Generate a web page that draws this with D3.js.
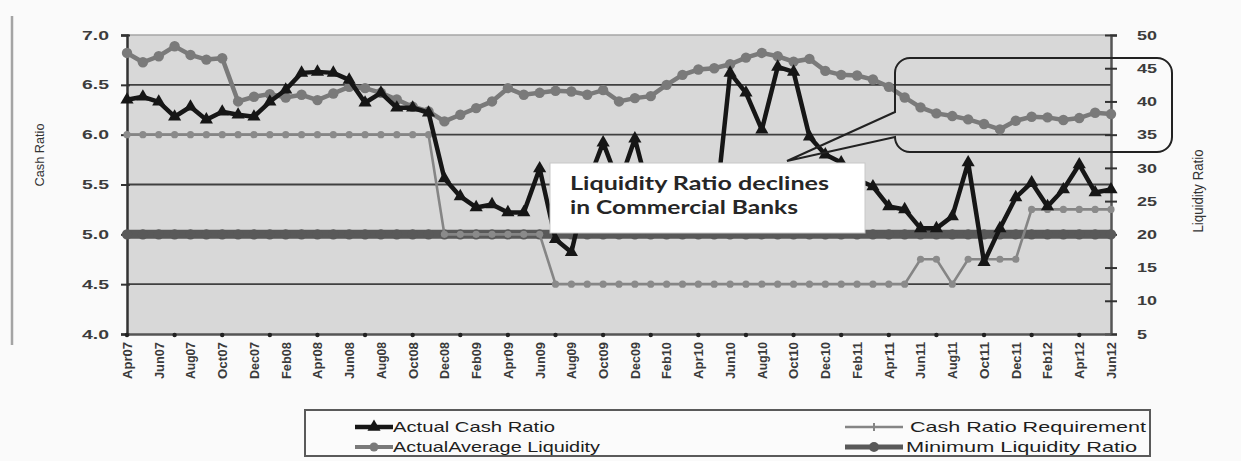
<!DOCTYPE html>
<html>
<head>
<meta charset="utf-8">
<script src="https://cdn.jsdelivr.net/npm/d3@7"></script>
<style>
  html, body { margin: 0; padding: 0; background: #fafafa; }
  svg { display: block; }
</style>
</head>
<body>
<svg id="chart" width="1241" height="461"></svg>
<script>
// Monthly observations, Apr 2007 – Jun 2012
const months = [
  "Apr07","May07","Jun07","Jul07","Aug07","Sep07","Oct07","Nov07","Dec07",
  "Jan08","Feb08","Mar08","Apr08","May08","Jun08","Jul08","Aug08","Sep08","Oct08","Nov08","Dec08",
  "Jan09","Feb09","Mar09","Apr09","May09","Jun09","Jul09","Aug09","Sep09","Oct09","Nov09","Dec09",
  "Jan10","Feb10","Mar10","Apr10","May10","Jun10","Jul10","Aug10","Sep10","Oct10","Nov10","Dec10",
  "Jan11","Feb11","Mar11","Apr11","May11","Jun11","Jul11","Aug11","Sep11","Oct11","Nov11","Dec11",
  "Jan12","Feb12","Mar12","Apr12","May12","Jun12"
];

const tickLabels = [
  "Apr07","Jun07","Aug07","Oct07","Dec07","Feb08","Apr08","Jun08","Aug08","Oct08","Dec08",
  "Feb09","Apr09","Jun09","Aug09","Oct09","Dec09","Feb10","Apr10","Jun10","Aug10","Oct10",
  "Dec10","Feb11","Apr11","Jun11","Aug11","Oct11","Dec11","Feb12","Apr12","Jun12"
];

// Cash ratio (left axis, %)
const cashRatio = [
  6.35, 6.38, 6.33, 6.18, 6.28, 6.15, 6.23, 6.20, 6.18,
  6.33, 6.45, 6.62, 6.63, 6.62, 6.55, 6.32, 6.42, 6.27, 6.27, 6.22, 5.56,
  5.38, 5.27, 5.30, 5.22, 5.22, 5.66, 4.95, 4.82, 5.50, 5.92, 5.50, 5.96,
  5.35, 5.25, 5.15, 5.10, 5.12, 6.62, 6.42, 6.05, 6.68, 6.63, 5.98, 5.80,
  5.72, 5.55, 5.48, 5.28, 5.25, 5.06, 5.06, 5.18, 5.72, 4.72, 5.06, 5.37,
  5.52, 5.28, 5.45, 5.70, 5.42, 5.45
];

// Cash ratio requirement (left axis, %)
const cashRatioRequirement = [
  6.0, 6.0, 6.0, 6.0, 6.0, 6.0, 6.0, 6.0, 6.0,
  6.0, 6.0, 6.0, 6.0, 6.0, 6.0, 6.0, 6.0, 6.0, 6.0, 6.0, 5.0,
  5.0, 5.0, 5.0, 5.0, 5.0, 5.0, 4.5, 4.5, 4.5, 4.5, 4.5, 4.5,
  4.5, 4.5, 4.5, 4.5, 4.5, 4.5, 4.5, 4.5, 4.5, 4.5, 4.5, 4.5,
  4.5, 4.5, 4.5, 4.5, 4.5, 4.75, 4.75, 4.5, 4.75, 4.75, 4.75, 4.75,
  5.25, 5.25, 5.25, 5.25, 5.25, 5.25
];

// Actual / average liquidity (right axis, %)
const liquidity = [
  47.3, 45.9, 46.8, 48.3, 47.0, 46.3, 46.5, 40.0, 40.7,
  41.1, 40.6, 41.0, 40.2, 41.2, 42.2, 42.0, 41.3, 40.3, 39.2, 38.5, 37.0,
  38.0, 39.0, 40.0, 42.0, 41.0, 41.3, 41.6, 41.5, 41.0, 41.7, 40.0, 40.5,
  40.8, 42.5, 44.0, 44.8, 45.0, 45.6, 46.6, 47.3, 46.8, 46.0, 46.4, 44.6,
  44.0, 43.9, 43.3, 42.2, 40.6, 39.1, 38.2, 37.8, 37.3, 36.6, 35.8, 37.1,
  37.7, 37.6, 37.2, 37.5, 38.3, 38.1
];

// Minimum liquidity ratio (right axis, %)
const minLiquidity = months.map(() => 20);

const leftTicks = [4.0, 4.5, 5.0, 5.5, 6.0, 6.5, 7.0];
const rightTicks = [5, 10, 15, 20, 25, 30, 35, 40, 45, 50];

const svg = d3.select("#chart");
const plot = { left: 127, right: 1111, top: 35, bottom: 334 };

const x = d3.scalePoint().domain(months).range([plot.left, plot.right]);
const yL = d3.scaleLinear().domain([4, 7]).range([plot.bottom, plot.top]);
const yR = d3.scaleLinear().domain([5, 50]).range([plot.bottom, plot.top]);

const axisFont = "'Liberation Sans', Arial, sans-serif";

// outer frame edge
svg.append("line")
  .attr("x1", 12).attr("x2", 12).attr("y1", 16).attr("y2", 345)
  .attr("stroke", "#a4a4a4").attr("stroke-width", 2.5);

// plot area
svg.append("rect")
  .attr("x", plot.left).attr("y", plot.top)
  .attr("width", plot.right - plot.left).attr("height", plot.bottom - plot.top)
  .attr("fill", "#d8d8d8");

// horizontal gridlines
svg.append("g").selectAll("line")
  .data(leftTicks.filter(d => d > 4))
  .join("line")
  .attr("x1", plot.left).attr("x2", plot.right)
  .attr("y1", d => yL(d)).attr("y2", d => yL(d))
  .attr("stroke", d => d === 7 ? "#a6a6a6" : "#404040")
  .attr("stroke-width", d => d === 7 ? 1.5 : 1.8);

// left axis
const gL = svg.append("g")
  .attr("transform", `translate(${plot.left},0)`)
  .call(d3.axisLeft(yL).tickValues(leftTicks).tickFormat(d3.format(".1f")).tickSize(6).tickPadding(12));
gL.select(".domain").attr("stroke", "#333").attr("stroke-width", 2.5);
gL.selectAll(".tick line").attr("x2", -6).attr("x1", 3).attr("stroke", "#333").attr("stroke-width", 2);
gL.selectAll(".tick text")
  .attr("font-family", axisFont).attr("font-size", 12.5).attr("font-weight", "bold")
  .attr("fill", "#3c3c3c")
  .attr("textLength", 27).attr("lengthAdjust", "spacingAndGlyphs");

// right axis
const gR = svg.append("g")
  .attr("transform", `translate(${plot.right},0)`)
  .call(d3.axisRight(yR).tickValues(rightTicks).tickSize(6).tickPadding(20));
gR.select(".domain").attr("stroke", "#555").attr("stroke-width", 2.5);
gR.selectAll(".tick line").attr("x1", -6).attr("x2", 6).attr("stroke", "#333").attr("stroke-width", 2);
gR.selectAll(".tick text")
  .attr("font-family", axisFont).attr("font-size", 13).attr("font-weight", "bold")
  .attr("fill", "#3c3c3c")
  .attr("textLength", d => d < 10 ? 10 : 20).attr("lengthAdjust", "spacingAndGlyphs");

// bottom axis: labels every two months, tick marks every quarter
const gB = svg.append("g")
  .attr("transform", `translate(0,${plot.bottom})`)
  .call(d3.axisBottom(x).tickValues(tickLabels).tickSize(0).tickPadding(0));
gB.select(".domain").attr("stroke", "#555").attr("stroke-width", 2.5);
gB.selectAll(".tick text")
  .attr("font-family", axisFont).attr("font-size", 12.5).attr("font-weight", "bold")
  .attr("fill", "#3a3a3a")
  .attr("text-anchor", "end")
  .attr("transform", "translate(0,8) rotate(-90)")
  .attr("x", 0).attr("y", 0).attr("dy", "0.35em")
  .attr("textLength", 37).attr("lengthAdjust", "spacingAndGlyphs");

const quarterTicks = months.filter((m, i) => i % 3 === 0);
svg.append("g").selectAll("circle")
  .data(quarterTicks)
  .join("circle")
  .attr("cx", d => x(d)).attr("cy", plot.bottom + 1)
  .attr("r", 2.2).attr("fill", "#222");

// axis titles
svg.append("text")
  .attr("transform", "translate(44,155) rotate(-90)")
  .attr("text-anchor", "middle")
  .attr("font-family", axisFont).attr("font-size", 13)
  .attr("fill", "#333")
  .attr("textLength", 63).attr("lengthAdjust", "spacingAndGlyphs")
  .text("Cash Ratio");

svg.append("text")
  .attr("transform", "translate(1203,191) rotate(-90)")
  .attr("text-anchor", "middle")
  .attr("font-family", axisFont).attr("font-size", 14)
  .attr("fill", "#333")
  .attr("textLength", 83).attr("lengthAdjust", "spacingAndGlyphs")
  .text("Liquidity Ratio");

// series
const lineL = d3.line().x((d, i) => x(months[i])).y(d => yL(d));
const lineR = d3.line().x((d, i) => x(months[i])).y(d => yR(d));

// minimum liquidity ratio
svg.append("path").datum(minLiquidity)
  .attr("d", lineR).attr("fill", "none")
  .attr("stroke", "#595959").attr("stroke-width", 9);
svg.append("g").selectAll("circle").data(minLiquidity).join("circle")
  .attr("cx", (d, i) => x(months[i])).attr("cy", d => yR(d))
  .attr("r", 5.2).attr("fill", "#595959");

// cash ratio requirement
svg.append("path").datum(cashRatioRequirement)
  .attr("d", lineL).attr("fill", "none")
  .attr("stroke", "#858585").attr("stroke-width", 2.6);
svg.append("g").selectAll("circle").data(cashRatioRequirement).join("circle")
  .attr("cx", (d, i) => x(months[i])).attr("cy", d => yL(d))
  .attr("r", 3.6).attr("fill", "#8a8a8a");

// actual / average liquidity
svg.append("path").datum(liquidity)
  .attr("d", lineR).attr("fill", "none")
  .attr("stroke", "#7a7a7a").attr("stroke-width", 4.5);
svg.append("g").selectAll("circle").data(liquidity).join("circle")
  .attr("cx", (d, i) => x(months[i])).attr("cy", d => yR(d))
  .attr("r", 5.2).attr("fill", "#7a7a7a");

// actual cash ratio
svg.append("path").datum(cashRatio)
  .attr("d", lineL).attr("fill", "none")
  .attr("stroke", "#161616").attr("stroke-width", 4.5).attr("stroke-linejoin", "round");
const tri = d3.symbol().type(d3.symbolTriangle).size(75);
svg.append("g").selectAll("path").data(cashRatio).join("path")
  .attr("d", tri)
  .attr("transform", (d, i) => `translate(${x(months[i])},${yL(d)})`)
  .attr("fill", "#161616");

// annotation: text box
svg.append("rect")
  .attr("x", 550).attr("y", 163).attr("width", 315).attr("height", 70)
  .attr("fill", "#ffffff").attr("stroke", "#c8c8c8").attr("stroke-width", 1);
const noteFont = "Lato, 'Open Sans', sans-serif";
svg.append("text")
  .attr("x", 570).attr("y", 190)
  .attr("font-family", noteFont).attr("font-weight", 700).attr("font-size", 18)
  .attr("fill", "#262626")
  .attr("textLength", 259).attr("lengthAdjust", "spacingAndGlyphs")
  .text("Liquidity Ratio declines");
svg.append("text")
  .attr("x", 570).attr("y", 214)
  .attr("font-family", noteFont).attr("font-weight", 700).attr("font-size", 18)
  .attr("fill", "#262626")
  .attr("textLength", 228).attr("lengthAdjust", "spacingAndGlyphs")
  .text("in Commercial Banks");

// annotation: rounded callout with pointer
svg.append("path")
  .attr("d", "M910,58 H1157 A15,15 0 0 1 1172,73 V137 A15,15 0 0 1 1157,152 H910 A15,15 0 0 1 895,137 L787,161 L895,112 V73 A15,15 0 0 1 910,58 Z")
  .attr("fill", "none").attr("stroke", "#222").attr("stroke-width", 2);

// legend
const legend = svg.append("g");
legend.append("rect")
  .attr("x", 305).attr("y", 410).attr("width", 845).attr("height", 46)
  .attr("fill", "#fbfbfb").attr("stroke", "#5a5a5a").attr("stroke-width", 2);

const legendItems = [
  { label: "Actual Cash Ratio", x0: 355, x1: 393, tx: 393, y: 427, len: 162, kind: "cash" },
  { label: "Cash Ratio Requirement", x0: 845, x1: 903, tx: 910, y: 427, len: 236, kind: "req" },
  { label: "ActualAverage Liquidity", x0: 355, x1: 393, tx: 393, y: 447, len: 207, kind: "liq" },
  { label: "Minimum Liquidity Ratio", x0: 845, x1: 903, tx: 906, y: 447, len: 231, kind: "min" }
];
const sampleStyle = {
  cash: { stroke: "#161616", w: 4.5 },
  req: { stroke: "#858585", w: 2.5 },
  liq: { stroke: "#7a7a7a", w: 4 },
  min: { stroke: "#595959", w: 5 }
};
legendItems.forEach(it => {
  const s = sampleStyle[it.kind];
  legend.append("line")
    .attr("x1", it.x0).attr("x2", it.x1).attr("y1", it.y).attr("y2", it.y)
    .attr("stroke", s.stroke).attr("stroke-width", s.w);
  const cx = (it.x0 + it.x1) / 2;
  if (it.kind === "cash") {
    legend.append("path").attr("d", tri).attr("transform", `translate(${cx},${it.y})`).attr("fill", "#161616");
  } else if (it.kind === "req") {
    legend.append("line").attr("x1", cx).attr("x2", cx).attr("y1", it.y - 4).attr("y2", it.y + 4)
      .attr("stroke", "#858585").attr("stroke-width", 2);
  } else {
    legend.append("circle").attr("cx", cx).attr("cy", it.y).attr("r", it.kind === "min" ? 5 : 4.5).attr("fill", s.stroke);
  }
  legend.append("text")
    .attr("x", it.tx).attr("y", it.y + 5)
    .attr("font-family", axisFont).attr("font-size", 15)
    .attr("fill", "#1e1e1e")
    .attr("textLength", it.len).attr("lengthAdjust", "spacingAndGlyphs")
    .text(it.label);
});
</script>
</body>
</html>
